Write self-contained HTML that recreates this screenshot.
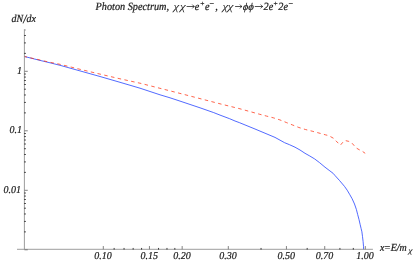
<!DOCTYPE html>
<html><head><meta charset="utf-8"><title>Photon Spectrum</title>
<style>html,body{margin:0;padding:0;background:#fff;width:415px;height:263px;overflow:hidden}body{position:relative;font-family:"Liberation Serif",serif}</style>
</head><body>
<svg width="415" height="263" viewBox="0 0 415 263" style="position:absolute;left:0;top:0;will-change:transform;opacity:0.999">
<rect width="415" height="263" fill="#fff"/>
<path d="M24.5 56.5 L40.0 60.4 L50.0 62.8 L60.0 65.3 L80.0 70.9 L100.0 76.5 L120.0 82.3 L140.0 88.2 L160.0 94.8 L170.0 97.8 L180.0 101.1 L200.0 107.8 L213.7 112.6 L220.0 115.1 L229.6 118.7 L235.0 121.0 L239.3 122.6 L255.0 129.0 L270.0 135.3 L275.0 137.4 L284.6 142.7 L289.5 144.7 L295.0 147.2 L300.0 150.0 L305.0 153.3 L309.8 156.0 L314.6 158.9 L319.5 162.6 L325.0 167.2 L329.1 170.3 L333.2 173.4 L334.8 175.3 L339.6 180.6 L344.5 186.4 L347.2 190.2 L349.6 194.3 L352.1 198.7 L354.5 204.0 L356.4 209.5 L357.7 214.6 L359.0 219.5 L360.1 224.3 L361.1 228.5 L361.9 231.8 L362.5 236.6 L363.1 241.5 L363.5 246.3 L363.6 249.4" fill="none" stroke="#1838ff" stroke-width="0.75" stroke-linejoin="round"/>
<path d="M24.5 56.5 L40.0 60.0 L50.0 62.3 L60.0 64.3 L80.0 69.3 L100.0 74.1 L120.0 78.8 L140.0 83.2 L160.0 88.3 L180.0 93.4 L200.0 98.6 L220.0 103.8 L240.0 108.8 L259.8 114.3 L266.6 116.1 L273.3 117.8 L279.9 119.9 L286.3 122.5 L292.6 125.0 L298.9 127.5 L305.4 129.5 L312.2 131.2 L318.9 133.0 L325.7 134.9 L327.4 135.3 L330.3 136.5 L333.7 138.4 L335.4 140.3 L338.5 143.4 L340.4 145.2 L342.8 142.3 L344.2 140.8 L345.5 140.6 L348.8 141.4 L351.3 142.4 L353.8 145.2 L355.8 147.7 L359.0 149.6 L362.0 151.1 L365.2 153.3" fill="none" stroke="#ff3010" stroke-width="0.75" stroke-dasharray="3.5 3.4" stroke-dashoffset="0.9" stroke-linejoin="round"/>
<g stroke="#848484" stroke-width="0.8" fill="none">
<path d="M24.4 29.2 V249.3"/>
<path d="M17.0 249.3 H372.9"/>
</g>
<path d="M24.45 71.30 h3.3 M24.45 130.80 h3.3 M24.45 190.30 h3.3 M24.45 249.80 h3.3 M103.30 249.35 v-3.3 M149.44 249.35 v-3.3 M182.17 249.35 v-3.3 M228.31 249.35 v-3.3 M286.43 249.35 v-3.3 M324.72 249.35 v-3.3 M365.30 249.35 v-3.3" stroke="#6c6c6c" stroke-width="0.85" fill="none"/>
<path d="M24.15 53.39 h1.70 M24.15 42.91 h1.70 M24.15 35.48 h1.70 M24.15 112.89 h1.70 M24.15 102.41 h1.70 M24.15 94.98 h1.70 M24.15 89.21 h1.70 M24.15 84.50 h1.70 M24.15 80.52 h1.70 M24.15 77.07 h1.70 M24.15 74.02 h1.70 M24.15 172.39 h1.70 M24.15 161.91 h1.70 M24.15 154.48 h1.70 M24.15 148.71 h1.70 M24.15 144.00 h1.70 M24.15 140.02 h1.70 M24.15 136.57 h1.70 M24.15 133.52 h1.70 M24.15 231.89 h1.70 M24.15 221.41 h1.70 M24.15 213.98 h1.70 M24.15 208.21 h1.70 M24.15 203.50 h1.70 M24.15 199.52 h1.70 M24.15 196.07 h1.70 M24.15 193.02 h1.70 M114.14 249.65 v-1.70 M124.05 249.65 v-1.70 M133.15 249.65 v-1.70 M141.59 249.65 v-1.70 M158.54 249.65 v-1.70 M166.98 249.65 v-1.70 M174.83 249.65 v-1.70 M261.04 249.65 v-1.70 M307.18 249.65 v-1.70 M339.91 249.65 v-1.70 M353.31 249.65 v-1.70" stroke="#303030" stroke-width="0.95" fill="none"/>
<path d="M24.45 30.01 h1.50" stroke="#8a8a8a" stroke-width="0.8" fill="none"/>
<g font-family="'Liberation Serif', serif" font-style="italic" font-size="10" text-rendering="geometricPrecision" fill="#1a1a1a" stroke="#1a1a1a" stroke-width="0.2">
<text transform="translate(22.00 73.60) scale(1 1.05)" text-anchor="end">1</text>
<text transform="translate(22.00 133.10) scale(1 1.05)" text-anchor="end">0.1</text>
<text transform="translate(21.10 192.60) scale(1 1.05)" text-anchor="end">0.01</text>
<text transform="translate(103.10 259.40) scale(1 1.05)" text-anchor="middle">0.10</text>
<text transform="translate(149.24 259.40) scale(1 1.05)" text-anchor="middle">0.15</text>
<text transform="translate(181.97 259.40) scale(1 1.05)" text-anchor="middle">0.20</text>
<text transform="translate(228.11 259.40) scale(1 1.05)" text-anchor="middle">0.30</text>
<text transform="translate(286.23 259.40) scale(1 1.05)" text-anchor="middle">0.50</text>
<text transform="translate(324.52 259.40) scale(1 1.05)" text-anchor="middle">0.70</text>
<text transform="translate(365.10 259.40) scale(1 1.05)" text-anchor="middle">1.00</text>
<text transform="translate(23.70 22.00) scale(1 1.08)" text-anchor="middle">dN<tspan font-size="11.5" dy="0.9">/</tspan><tspan dy="-0.9">dx</tspan></text>
<text transform="translate(380.10 250.60) scale(1 1.08)">x</text>
<text transform="translate(383.90 250.60) scale(1 1.08)">=E/m</text>
<text transform="translate(407.90 252.90) skewX(-14) scale(1.2 1)" font-size="7.40" font-style="normal" stroke-width="0.1">χ</text>
<text transform="translate(95.56 9.80) scale(1 1.08)" font-size="10.25">Photon Spectrum,</text>
<text transform="translate(172.80 10.20) skewX(-14) scale(1.2 1)" font-size="10.80" font-style="normal" stroke="none" fill="#262626">χ</text>
<text transform="translate(179.20 10.20) skewX(-14) scale(1.2 1)" font-size="10.80" font-style="normal" stroke="none" fill="#262626">χ</text>
<text transform="translate(194.78 9.80) scale(1 1.08)" font-size="10.25">e</text>
<text transform="translate(199.85 6.00) scale(1 1)" font-size="7.50">+</text>
<text transform="translate(204.98 9.80) scale(1 1.08)" font-size="10.25">e</text>
<text transform="translate(209.09 5.70) scale(1 1)" font-size="8.00">−</text>
<text transform="translate(215.16 9.80) scale(1 1.08)" font-size="10.25">,</text>
<text transform="translate(221.70 10.20) skewX(-14) scale(1.2 1)" font-size="10.80" font-style="normal" stroke="none" fill="#262626">χ</text>
<text transform="translate(227.10 10.20) skewX(-14) scale(1.2 1)" font-size="10.80" font-style="normal" stroke="none" fill="#262626">χ</text>
<text transform="translate(242.30 9.80) skewX(-14) scale(1.03 1)" font-size="10.20" font-style="normal">ϕ</text>
<text transform="translate(247.70 9.80) skewX(-14) scale(1.03 1)" font-size="10.20" font-style="normal">ϕ</text>
<text transform="translate(263.39 9.80) scale(1 1.08)" font-size="10.25">2</text>
<text transform="translate(268.68 9.80) scale(1 1.08)" font-size="10.25">e</text>
<text transform="translate(272.95 6.00) scale(1 1)" font-size="7.50">+</text>
<text transform="translate(278.29 9.80) scale(1 1.08)" font-size="10.25">2</text>
<text transform="translate(283.38 9.80) scale(1 1.08)" font-size="10.25">e</text>
<text transform="translate(287.89 5.70) scale(1 1)" font-size="8.00">−</text>
<path d="M187.0 6.5 H194.0 M192.5 4.9 Q193.3 6.0 194.3 6.5 Q193.3 7.0 192.5 8.1" fill="none" stroke="#1a1a1a" stroke-width="0.75" stroke-linecap="round" stroke-linejoin="round"/>
<path d="M235.5 6.5 H241.6 M240.1 4.9 Q240.9 6.0 241.9 6.5 Q240.9 7.0 240.1 8.1" fill="none" stroke="#1a1a1a" stroke-width="0.75" stroke-linecap="round" stroke-linejoin="round"/>
<path d="M255.2 6.5 H262.4 M260.9 4.9 Q261.7 6.0 262.7 6.5 Q261.7 7.0 260.9 8.1" fill="none" stroke="#1a1a1a" stroke-width="0.75" stroke-linecap="round" stroke-linejoin="round"/>
</g>
</svg>
</body></html>
